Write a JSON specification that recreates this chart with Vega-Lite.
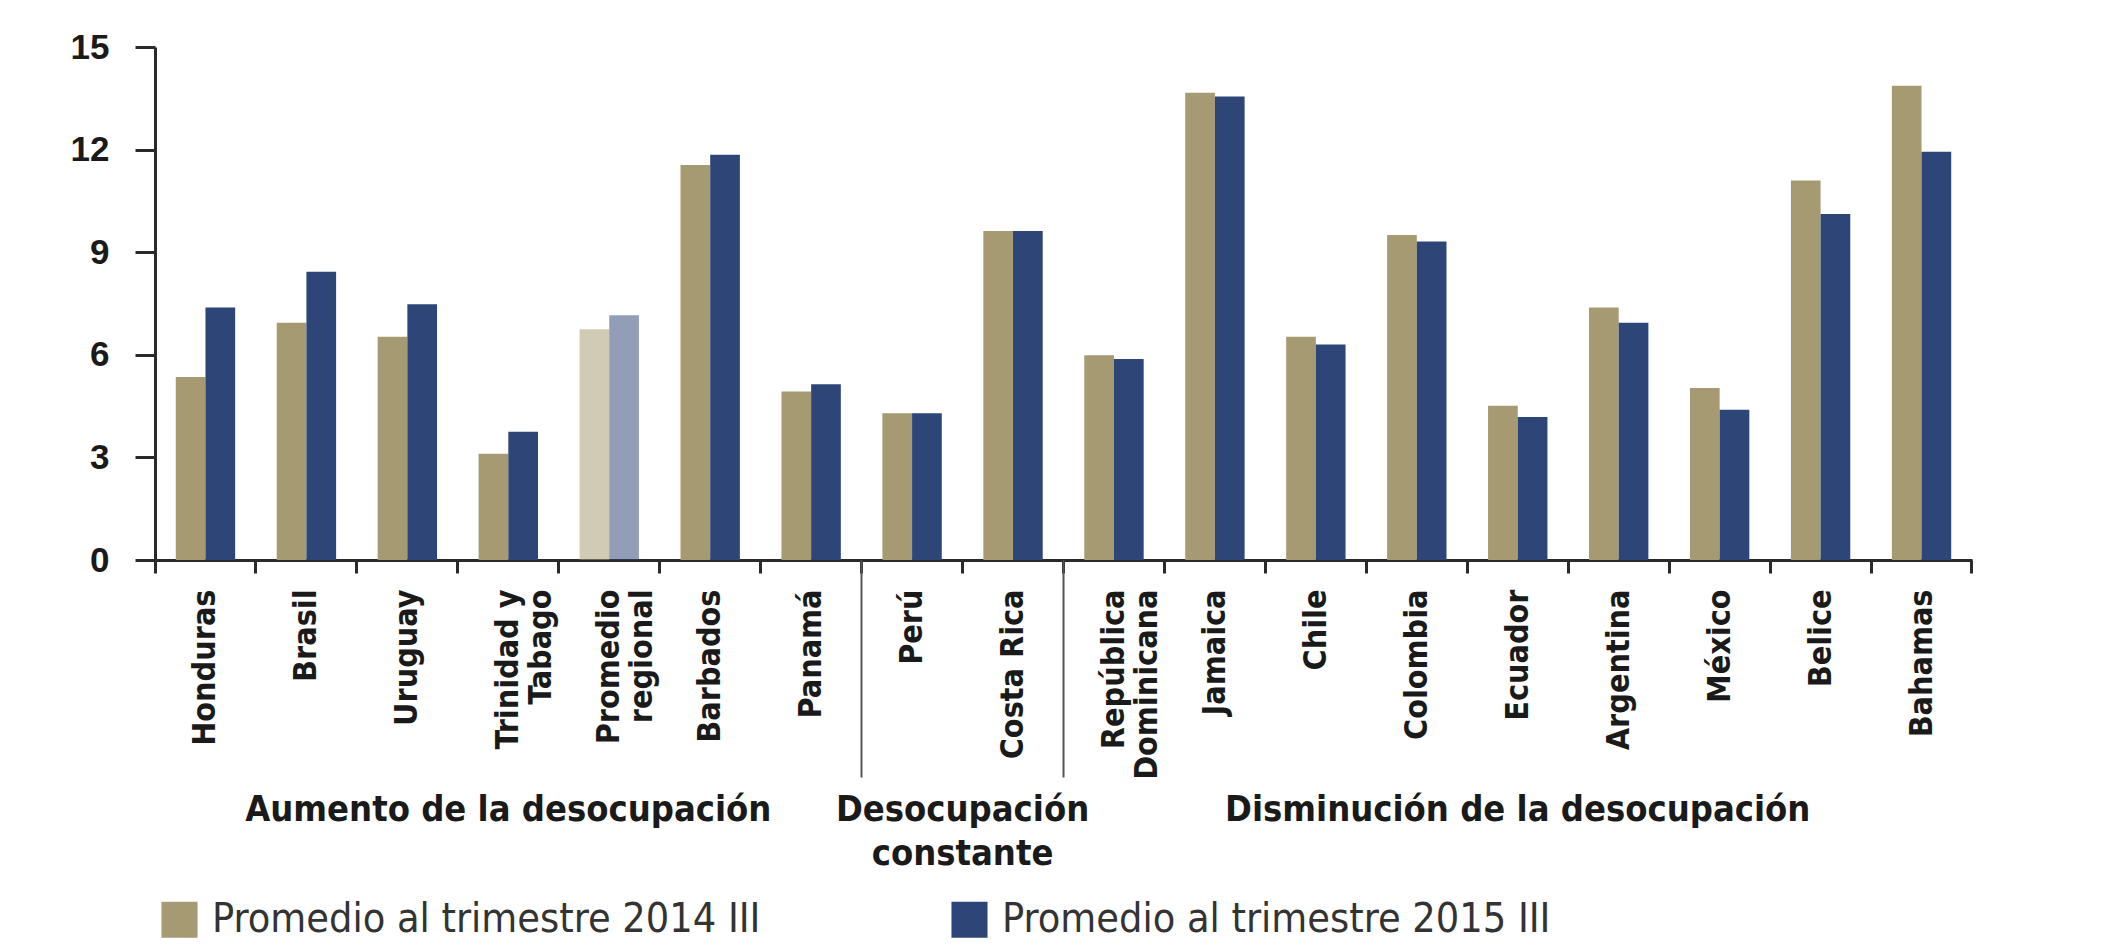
{
  "$schema": "https://vega.github.io/schema/vega-lite/v6.json",
  "width": 1817,
  "height": 513,
  "autosize": "none",
  "padding": {"left": 155, "top": 47, "right": 129, "bottom": 386},
  "background": "#ffffff",
  "config": {"view": {"stroke": null}},
  "datasets": {
    "tasas": [
      {"pais": "Honduras", "serie": "Promedio al trimestre 2014 III", "valor": 5.35},
      {"pais": "Honduras", "serie": "Promedio al trimestre 2015 III", "valor": 7.38},
      {"pais": "Brasil", "serie": "Promedio al trimestre 2014 III", "valor": 6.94},
      {"pais": "Brasil", "serie": "Promedio al trimestre 2015 III", "valor": 8.43},
      {"pais": "Uruguay", "serie": "Promedio al trimestre 2014 III", "valor": 6.53},
      {"pais": "Uruguay", "serie": "Promedio al trimestre 2015 III", "valor": 7.48},
      {"pais": "Trinidad y Tabago", "serie": "Promedio al trimestre 2014 III", "valor": 3.11},
      {"pais": "Trinidad y Tabago", "serie": "Promedio al trimestre 2015 III", "valor": 3.75},
      {"pais": "Promedio regional", "serie": "Promedio al trimestre 2014 III", "valor": 6.75},
      {"pais": "Promedio regional", "serie": "Promedio al trimestre 2015 III", "valor": 7.16},
      {"pais": "Barbados", "serie": "Promedio al trimestre 2014 III", "valor": 11.55},
      {"pais": "Barbados", "serie": "Promedio al trimestre 2015 III", "valor": 11.85},
      {"pais": "Panamá", "serie": "Promedio al trimestre 2014 III", "valor": 4.93},
      {"pais": "Panamá", "serie": "Promedio al trimestre 2015 III", "valor": 5.14},
      {"pais": "Perú", "serie": "Promedio al trimestre 2014 III", "valor": 4.29},
      {"pais": "Perú", "serie": "Promedio al trimestre 2015 III", "valor": 4.29},
      {"pais": "Costa Rica", "serie": "Promedio al trimestre 2014 III", "valor": 9.62},
      {"pais": "Costa Rica", "serie": "Promedio al trimestre 2015 III", "valor": 9.62},
      {"pais": "República Dominicana", "serie": "Promedio al trimestre 2014 III", "valor": 5.99},
      {"pais": "República Dominicana", "serie": "Promedio al trimestre 2015 III", "valor": 5.88},
      {"pais": "Jamaica", "serie": "Promedio al trimestre 2014 III", "valor": 13.66},
      {"pais": "Jamaica", "serie": "Promedio al trimestre 2015 III", "valor": 13.55},
      {"pais": "Chile", "serie": "Promedio al trimestre 2014 III", "valor": 6.53},
      {"pais": "Chile", "serie": "Promedio al trimestre 2015 III", "valor": 6.30},
      {"pais": "Colombia", "serie": "Promedio al trimestre 2014 III", "valor": 9.50},
      {"pais": "Colombia", "serie": "Promedio al trimestre 2015 III", "valor": 9.31},
      {"pais": "Ecuador", "serie": "Promedio al trimestre 2014 III", "valor": 4.51},
      {"pais": "Ecuador", "serie": "Promedio al trimestre 2015 III", "valor": 4.18},
      {"pais": "Argentina", "serie": "Promedio al trimestre 2014 III", "valor": 7.38},
      {"pais": "Argentina", "serie": "Promedio al trimestre 2015 III", "valor": 6.94},
      {"pais": "México", "serie": "Promedio al trimestre 2014 III", "valor": 5.03},
      {"pais": "México", "serie": "Promedio al trimestre 2015 III", "valor": 4.39},
      {"pais": "Belice", "serie": "Promedio al trimestre 2014 III", "valor": 11.10},
      {"pais": "Belice", "serie": "Promedio al trimestre 2015 III", "valor": 10.12},
      {"pais": "Bahamas", "serie": "Promedio al trimestre 2014 III", "valor": 13.87},
      {"pais": "Bahamas", "serie": "Promedio al trimestre 2015 III", "valor": 11.94}
    ],
    "grupos": [
      {"grupo": "Aumento de la desocupación", "centro": "Trinidad y Tabago"},
      {"grupo": "Disminución de la desocupación", "centro": "Ecuador"}
    ],
    "grupo_constante": [
      {"grupo": ["Desocupación", "constante"], "centro": "Costa Rica"}
    ]
  },
  "layer": [
    {
      "data": {"name": "tasas"},
      "mark": {"type": "bar"},
      "encoding": {
        "x": {
          "field": "pais",
          "type": "nominal",
          "sort": null,
          "scale": {
            "domain": ["Honduras", "Brasil", "Uruguay", "Trinidad y Tabago", "Promedio regional", "Barbados", "Panamá", "Perú", "Costa Rica", "República Dominicana", "Jamaica", "Chile", "Colombia", "Ecuador", "Argentina", "México", "Belice", "Bahamas"],
            "paddingInner": 0,
            "paddingOuter": 0
          },
          "axis": {
            "title": null,
            "orient": "bottom",
            "bandPosition": 0,
            "domainColor": "#2a2a2a",
            "domainWidth": 3,
            "tickColor": "#2a2a2a",
            "tickWidth": 3,
            "tickSize": 13,
            "labelAngle": 270,
            "labelAlign": "right",
            "labelBaseline": "middle",
            "labelPadding": 16,
            "labelFont": "DejaVu Sans Condensed, sans-serif",
            "labelFontWeight": "bold",
            "labelFontSize": 32,
            "labelLineHeight": 33,
            "labelColor": "#1a1a1a",
            "labelLimit": 500,
            "labelOverlap": false,
            "labelBound": false,
            "labelFlush": false,
            "labelExpr": "datum.label == 'Trinidad y Tabago' ? ['Trinidad y', 'Tabago'] : datum.label == 'Promedio regional' ? ['Promedio', 'regional'] : datum.label == 'República Dominicana' ? ['República', 'Dominicana'] : datum.label"
          }
        },
        "xOffset": {
          "field": "serie",
          "type": "nominal",
          "scale": {"paddingInner": 0, "paddingOuter": 0.7}
        },
        "y": {
          "field": "valor",
          "type": "quantitative",
          "scale": {"domain": [0, 15], "nice": false, "zero": true},
          "axis": {
            "title": null,
            "values": [0, 3, 6, 9, 12, 15],
            "grid": false,
            "domainColor": "#2a2a2a",
            "domainWidth": 3,
            "tickColor": "#2a2a2a",
            "tickWidth": 3,
            "tickSize": 20,
            "labelPadding": 26,
            "labelFont": "Liberation Sans, Arial, sans-serif",
            "labelFontWeight": "bold",
            "labelFontSize": 35,
            "labelColor": "#1a1a1a"
          }
        },
        "color": {
          "field": "serie",
          "type": "nominal",
          "scale": {"range": ["#a69a72", "#2e4577"]},
          "legend": {
            "title": null,
            "orient": "none",
            "direction": "horizontal",
            "legendX": 4,
            "legendY": 852,
            "symbolType": "square",
            "symbolSize": 1300,
            "symbolStrokeWidth": 0,
            "symbolOpacity": 1,
            "labelOffset": 12,
            "columnPadding": 188,
            "labelFont": "DejaVu Sans Condensed, sans-serif",
            "labelFontSize": 41,
            "labelColor": "#333333",
            "labelLimit": 800
          }
        },
        "opacity": {
          "condition": {"test": "datum.pais === 'Promedio regional'", "value": 0.52},
          "value": 1
        }
      }
    },
    {
      "data": {"name": "tasas"},
      "mark": {"type": "rule", "opacity": 0},
      "encoding": {
        "x": {
          "field": "pais",
          "type": "nominal",
          "sort": null,
          "axis": {
            "title": null,
            "orient": "bottom",
            "values": ["Perú", "República Dominicana"],
            "bandPosition": 0,
            "domain": false,
            "labels": false,
            "tickColor": "#555555",
            "tickWidth": 2,
            "tickSize": 217
          }
        }
      }
    },
    {
      "data": {"name": "tasas"},
      "mark": {"type": "rule", "opacity": 0},
      "encoding": {
        "x": {
          "field": "pais",
          "type": "nominal",
          "sort": null,
          "axis": {
            "title": null,
            "orient": "bottom",
            "values": ["Bahamas"],
            "bandPosition": 1,
            "domain": false,
            "labels": false,
            "tickColor": "#2a2a2a",
            "tickWidth": 3,
            "tickSize": 13
          }
        }
      }
    },
    {
      "data": {"name": "grupos"},
      "mark": {
        "type": "text",
        "align": "center",
        "baseline": "alphabetic",
        "font": "DejaVu Sans Condensed, sans-serif",
        "fontWeight": "bold",
        "fontSize": 36,
        "color": "#1a1a1a"
      },
      "encoding": {
        "x": {"field": "centro", "type": "nominal", "sort": null, "axis": null},
        "y": {"datum": -7.62, "type": "quantitative", "axis": null},
        "text": {"field": "grupo"}
      }
    },
    {
      "data": {"name": "grupo_constante"},
      "mark": {
        "type": "text",
        "align": "center",
        "baseline": "alphabetic",
        "font": "DejaVu Sans Condensed, sans-serif",
        "fontWeight": "bold",
        "fontSize": 36,
        "lineHeight": 44,
        "color": "#1a1a1a"
      },
      "encoding": {
        "x": {"field": "centro", "type": "nominal", "sort": null, "bandPosition": 0, "axis": null},
        "y": {"datum": -7.62, "type": "quantitative", "axis": null},
        "text": {"field": "grupo"}
      }
    }
  ],
  "resolve": {"axis": {"x": "independent", "y": "independent"}}
}
